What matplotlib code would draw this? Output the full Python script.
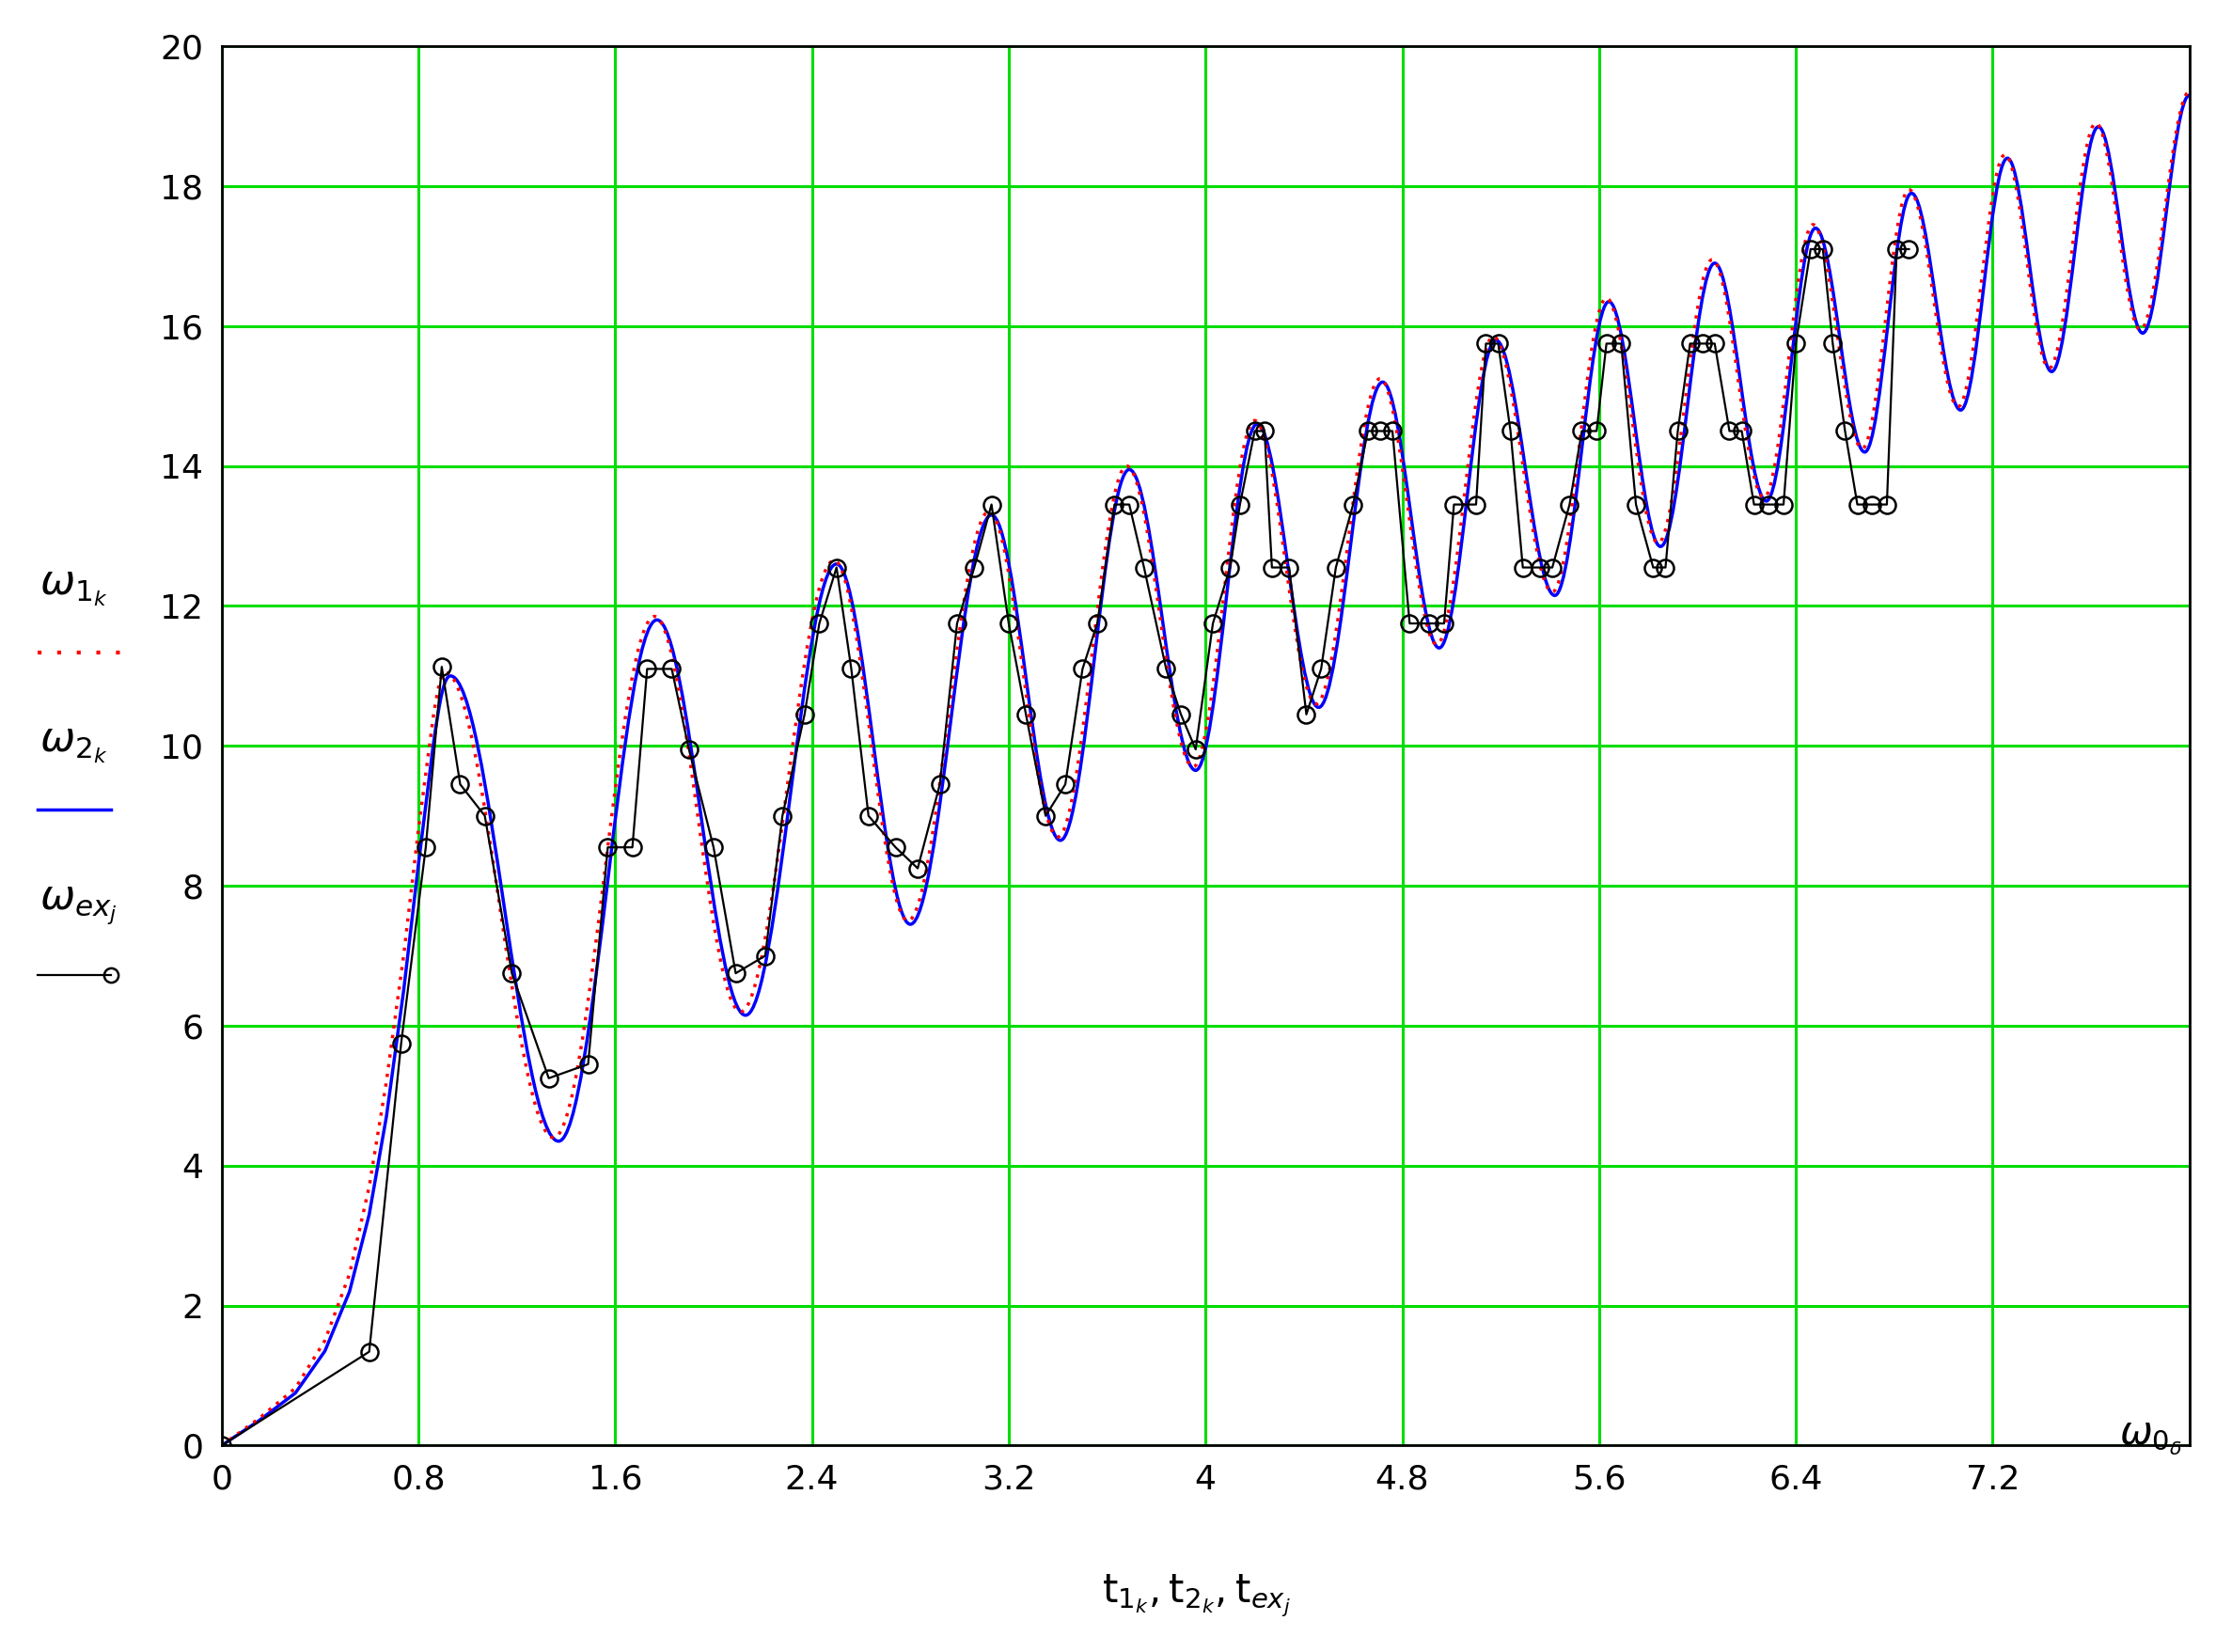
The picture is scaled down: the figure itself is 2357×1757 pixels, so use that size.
import matplotlib
matplotlib.use("Agg")
import matplotlib.pyplot as plt
from matplotlib.path import Path
from matplotlib.patches import PathPatch
from matplotlib.lines import Line2D

# rise before the first peak (model curves)
rise_t = [0, 0.15, 0.3, 0.42, 0.52, 0.6, 0.67, 0.74, 0.8, 0.86]
rise_v2 = [0, 0.35, 0.75, 1.35, 2.2, 3.3, 4.7, 6.5, 8.3, 10.0]
rise_v1 = [0, 0.38, 0.82, 1.5, 2.45, 3.7, 5.2, 7.0, 8.8, 10.4]

# extrema of omega_2 (blue)
ext_t2 = [0.93, 1.37, 1.77, 2.13, 2.50, 2.80, 3.13, 3.41, 3.69, 3.96, 4.21, 4.46,
          4.72, 4.95, 5.18, 5.42, 5.64, 5.85, 6.07, 6.28, 6.48, 6.68, 6.87, 7.07,
          7.26, 7.44, 7.63, 7.81, 8.0]
ext_v2 = [11.0, 4.35, 11.8, 6.15, 12.6, 7.45, 13.3, 8.65, 13.95, 9.65, 14.6, 10.55,
          15.2, 11.4, 15.8, 12.15, 16.35, 12.85, 16.9, 13.5, 17.4, 14.2, 17.9, 14.8,
          18.4, 15.35, 18.85, 15.9, 19.3]
# extrema of omega_1 (red dotted)
ext_t1 = [0.91, 1.35, 1.76, 2.11, 2.49, 2.79, 3.12, 3.40, 3.68, 3.95, 4.20, 4.45,
          4.71, 4.94, 5.17, 5.41, 5.63, 5.84, 6.06, 6.27, 6.47, 6.67, 6.86, 7.06,
          7.25, 7.43, 7.62, 7.80, 8.0]
ext_v1 = [11.05, 4.4, 11.85, 6.2, 12.65, 7.5, 13.35, 8.7, 14.0, 9.7, 14.65, 10.6,
          15.25, 11.45, 15.85, 12.2, 16.4, 12.9, 16.95, 13.55, 17.45, 14.25, 17.95, 14.85,
          18.45, 15.4, 18.9, 15.95, 19.35]

# experimental data
t_ex = [0, 0.6, 0.73, 0.83, 0.895, 0.97, 1.07, 1.18, 1.33, 1.49, 1.57, 1.67, 1.73,
        1.83, 1.90, 2.0, 2.09, 2.21, 2.28, 2.37, 2.43, 2.50, 2.56, 2.63, 2.74, 2.83,
        2.92, 2.99, 3.06, 3.13, 3.20, 3.27, 3.35, 3.43, 3.50, 3.56, 3.63, 3.69, 3.75,
        3.84, 3.90, 3.96, 4.03, 4.10, 4.14, 4.20, 4.24, 4.27, 4.34, 4.41, 4.47, 4.53,
        4.60, 4.66, 4.71, 4.76, 4.83, 4.91, 4.97, 5.01, 5.10, 5.14, 5.19, 5.24, 5.29,
        5.36, 5.41, 5.48, 5.53, 5.59, 5.63, 5.69, 5.75, 5.82, 5.87, 5.92, 5.97, 6.02,
        6.07, 6.13, 6.18, 6.23, 6.29, 6.35, 6.40, 6.46, 6.51, 6.55, 6.60, 6.65, 6.71,
        6.77, 6.81, 6.86]
v_ex = [0, 1.34, 5.75, 8.55, 11.13, 9.45, 9.0, 6.75, 5.25, 5.45, 8.55, 8.55, 11.1,
        11.1, 9.95, 8.55, 6.75, 7.0, 9.0, 10.45, 11.75, 12.55, 11.1, 9.0, 8.55, 8.25,
        9.45, 11.75, 12.55, 13.45, 11.75, 10.45, 9.0, 9.45, 11.1, 11.75, 13.45, 13.45, 12.55,
        11.1, 10.45, 9.95, 11.75, 12.55, 13.45, 14.5, 14.5, 12.55, 12.55, 10.45, 11.1, 12.55,
        13.45, 14.5, 14.5, 14.5, 11.75, 11.75, 11.75, 13.45, 13.45, 15.75, 15.75, 14.5, 12.55,
        12.55, 12.55, 13.45, 14.5, 14.5, 15.75, 15.75, 13.45, 12.55, 12.55, 14.5, 15.75, 15.75,
        15.75, 14.5, 14.5, 13.45, 13.45, 13.45, 15.75, 17.1, 17.1, 15.75, 14.5, 13.45, 13.45,
        13.45, 17.1, 17.1]

x_ticks = [0, 0.8, 1.6, 2.4, 3.2, 4, 4.8, 5.6, 6.4, 7.2]
x_labels = ["0", "0.8", "1.6", "2.4", "3.2", "4", "4.8", "5.6", "6.4", "7.2"]
y_ticks = list(range(0, 21, 2))


def smooth_path(rt, rv, et, ev):
    verts = list(zip(rt, rv))
    codes = [Path.MOVETO] + [Path.LINETO] * (len(rt) - 1)
    # join rise to first extremum
    pt, pv = rt[-1], rv[-1]
    dt = et[0] - pt
    verts += [(pt + dt * 0.4, pv + (ev[0] - pv) * 0.7), (et[0] - dt * 0.35, ev[0]), (et[0], ev[0])]
    codes += [Path.CURVE4] * 3
    for i in range(1, len(et)):
        d = et[i] - et[i - 1]
        verts += [(et[i - 1] + d * 0.36, ev[i - 1]), (et[i] - d * 0.36, ev[i]), (et[i], ev[i])]
        codes += [Path.CURVE4] * 3
    return Path(verts, codes)


fig = plt.figure(figsize=(23.57, 17.57), dpi=100)
ax = fig.add_axes([0.1, 0.125, 0.888, 0.847])
ax.set_xlim(0, 8)
ax.set_ylim(0, 20)
ax.grid(True, color="#00dd00", linewidth=2.2)
ax.set_axisbelow(True)

ax.add_patch(PathPatch(smooth_path(rise_t, rise_v2, ext_t2, ext_v2), fill=False,
                       edgecolor="blue", linewidth=2.5))
ax.add_patch(PathPatch(smooth_path(rise_t, rise_v1, ext_t1, ext_v1), fill=False,
                       edgecolor="red", linewidth=2.5, linestyle=(0, (1, 2))))
ax.plot(t_ex, v_ex, color="black", linewidth=1.6, marker="o", markersize=13,
        markerfacecolor="none", markeredgewidth=1.8)

ax.set_xticks(x_ticks)
ax.set_xticklabels(x_labels)
ax.set_yticks(y_ticks)
ax.tick_params(labelsize=26, length=0, pad=14)
for s in ax.spines.values():
    s.set_linewidth(2)

fig.text(0.985, 0.118, r"$\omega_{0_\delta}$", fontsize=30, ha="right", va="bottom")
fig.text(0.54, 0.03, r"$\mathregular{t}_{1_k},\mathregular{t}_{2_k},\mathregular{t}_{ex_j}$",
         fontsize=30, ha="center")

fig.text(0.018, 0.64, r"$\omega_{1_k}$", fontsize=32)
fig.add_artist(Line2D([0.017, 0.055], [0.605, 0.605], color="red", linewidth=3,
                      linestyle=(0, (1, 4))))
fig.text(0.018, 0.545, r"$\omega_{2_k}$", fontsize=32)
fig.add_artist(Line2D([0.017, 0.05], [0.51, 0.51], color="blue", linewidth=2.5))
fig.text(0.018, 0.45, r"$\omega_{ex_j}$", fontsize=32)
fig.add_artist(Line2D([0.017, 0.05], [0.41, 0.41], color="black", linewidth=1.6,
                      marker="o", markevery=[1], markersize=11, markerfacecolor="none",
                      markeredgewidth=1.8))

fig.savefig("out.png", dpi=100)
